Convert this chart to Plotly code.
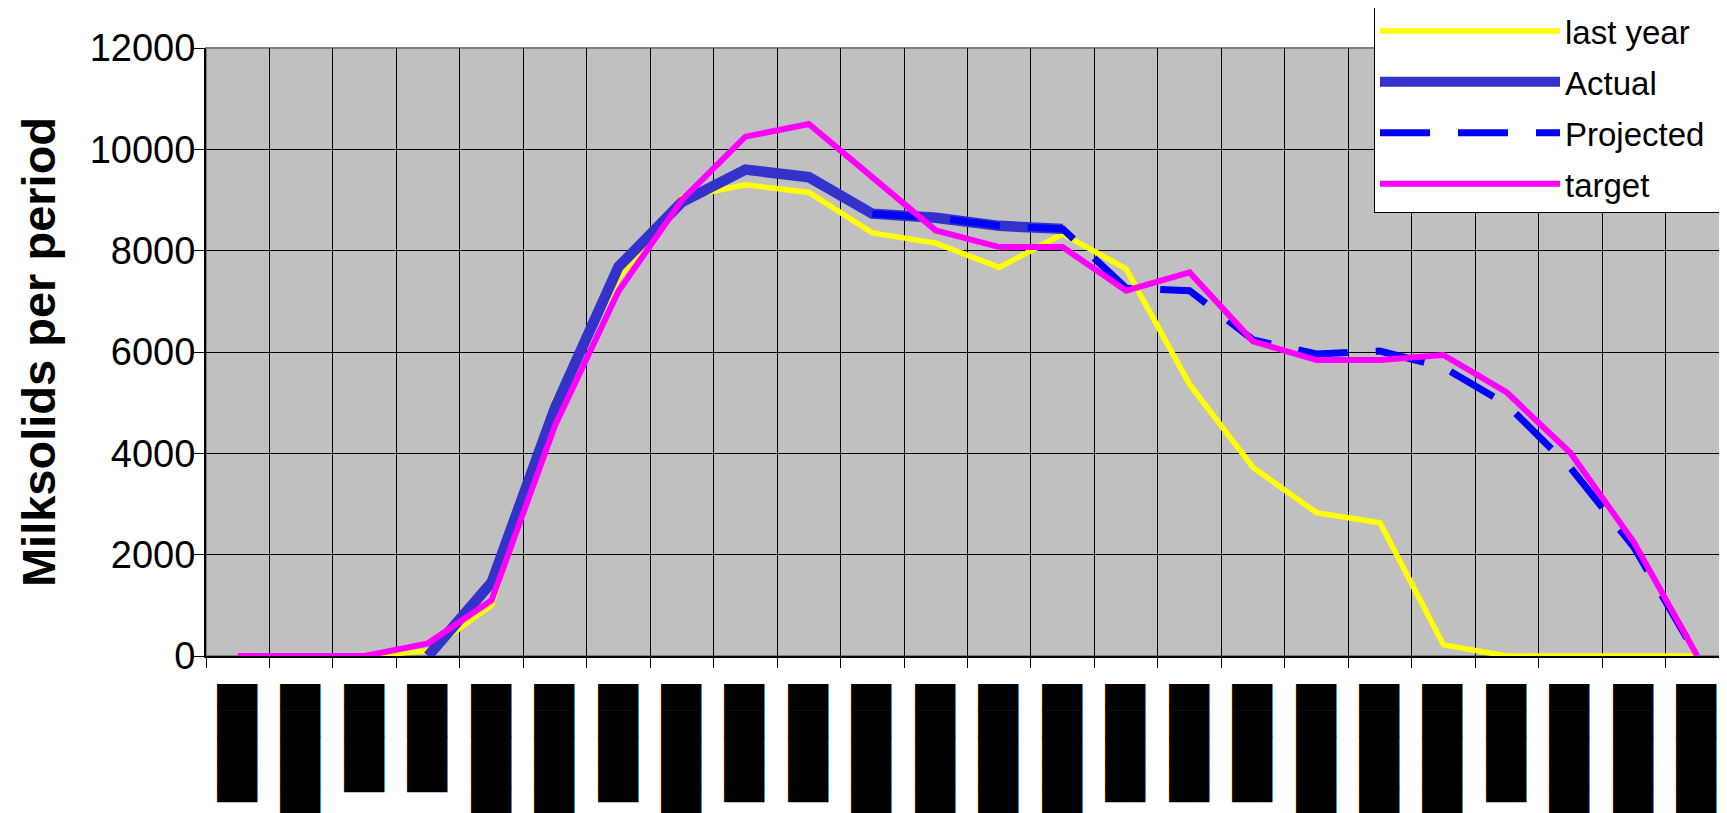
import plotly.graph_objects as go

# ---- data ----
categories = list(range(24))
label_len = ["m", "l", "s", "s", "l", "l", "m", "l", "m", "m", "l", "l",
             "l", "l", "m", "m", "m", "l", "l", "l", "m", "l", "l", "l"]
_blocks = {"s": "\u2595\u2588\u2588\u2588\u2588", "m": "\u2590\u2588\u2588\u2588\u2588",
           "l": "\u2588\u2588\u2588\u2588\u2588"}
tick_labels = [_blocks[k] for k in label_len]
series_names = ["last year", "Actual", "Projected", "target"]
last_year = [0, 0, 0, 100, 1000, 5050, 7450, 9050, 9300, 9150, 8350, 8150,
             7670, 8330, 7640, 5360, 3720, 2830, 2630, 220, 0, 0, 0, 0]
actual = [None, None, None, 0, 1450, 4900, 7680, 8960, 9600, 9450, 8730, 8650,
          8490, 8430, None, None, None, None, None, None, None, None, None, None]
projected = [None, None, None, None, None, None, None, None, None, None, 8730, 8650,
             8490, 8430, 7260, 7210, 6240, 5960, 6020, 5700, 4960, 3720, 2150, 0]
target = [0, 0, 0, 250, 1100, 4550, 7200, 9000, 10250, 10500, 9450, 8400,
          8070, 8070, 7210, 7570, 6210, 5840, 5840, 5940, 5200, 4010, 2250, 0]

W, H = 1727, 813
L, R, T, B = 198, 6, 40, 165
plot_h = H - T - B
pad = "\u00a0\u00a0"

fig = go.Figure()
fig.add_trace(go.Scatter(x=categories, y=last_year, name=series_names[0] + pad, mode="lines",
                         legendgroup="a", line=dict(color="#FFFF00", width=5.5)))
fig.add_trace(go.Scatter(x=categories, y=actual, name=series_names[1] + pad, mode="lines",
                         legendgroup="b", line=dict(color="#3333CC", width=10.5)))
fig.add_trace(go.Scatter(x=categories, y=projected, name=series_names[2] + pad, mode="lines",
                         legendgroup="c", line=dict(color="#0000FF", width=7, dash="50px,28px")))
fig.add_trace(go.Scatter(x=categories, y=target, name=series_names[3] + pad, mode="lines",
                         legendgroup="d", line=dict(color="#FF00FF", width=6)))

fig.update_layout(
    width=W, height=H,
    margin=dict(l=L, r=R, t=T, b=B, autoexpand=False),
    paper_bgcolor="white",
    plot_bgcolor="#C0C0C0",
    font=dict(family="Liberation Sans, Arial, sans-serif", color="black"),
    showlegend=True,
    legend=dict(
        x=1, xanchor="right", y=(plot_h + T + 6) / plot_h, yanchor="top",
        bgcolor="white", bordercolor="black", borderwidth=1,
        font=dict(size=33, family="Liberation Sans, Arial, sans-serif"),
        itemwidth=180,
        tracegroupgap=5,
    ),
    xaxis=dict(
        range=[-0.5, 23.5],
        tickmode="array", tickvals=categories, ticktext=tick_labels,
        tickangle=-90,
        tickfont=dict(family="DejaVu Sans", size=34, color="black"),
        ticks="", showgrid=False, zeroline=False,
        ticklabelstandoff=13,
        showline=True, linecolor="black", linewidth=2,
        minor=dict(tick0=-0.5, dtick=1, ticks="outside", ticklen=10, tickcolor="black",
                   tickwidth=1, showgrid=True, gridcolor="black", gridwidth=1),
    ),
    yaxis=dict(
        range=[0, 12000], tickmode="linear", tick0=0, dtick=2000, tickformat="d",
        tickfont=dict(size=38, family="Liberation Sans, Arial, sans-serif"),
        ticks="outside", ticklen=11, tickcolor="black", tickwidth=1,
        ticklabelstandoff=-10,
        showgrid=True, gridcolor="black", gridwidth=1, zeroline=False,
        showline=True, linecolor="black", linewidth=2,
        title=dict(text="<b>Milksolids per period</b>",
                   font=dict(size=47, family="Liberation Sans, Arial, sans-serif"),
                   standoff=19),
    ),
    shapes=[dict(type="rect", xref="paper", yref="paper", x0=0, x1=1, y0=0, y1=1,
                 line=dict(color="#808080", width=2), layer="below")],
)

fig.write_html("out.html")
